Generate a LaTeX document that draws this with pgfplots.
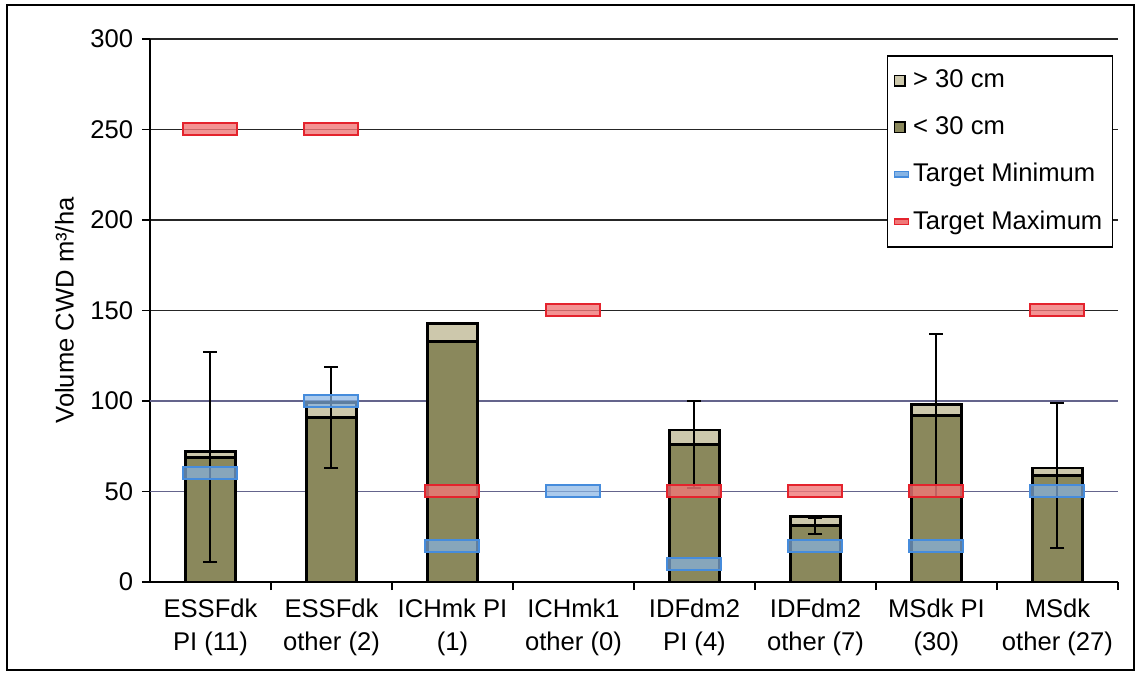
\documentclass[border=0pt]{standalone}
\usepackage{pgfplots}
\pgfplotsset{compat=1.18}
\usepackage{fontspec}
\setmainfont{Liberation Sans}
\definecolor{cOlive}{RGB}{138,136,92}
\definecolor{cTan}{RGB}{205,200,172}
\definecolor{cBlueB}{RGB}{70,140,220}
\definecolor{cBlueF}{RGB}{135,180,228}
\definecolor{cRedB}{RGB}{228,35,45}
\definecolor{cRedF}{RGB}{240,120,120}
\definecolor{cGridB}{RGB}{100,100,140}
\pgfdeclareplotmark{tbar}{\pgfpathrectangle{\pgfpoint{-13.5bp}{-3bp}}{\pgfpoint{27bp}{6bp}}\pgfusepathqfillstroke}
\pgfplotsset{
  myax/.style={
    at={(0,0)}, anchor=south west,
    scale only axis, width=484bp, height=271.5bp,
    xmin=-0.5, xmax=7.5, ymin=0, ymax=300,
  }
}
\begin{document}
\fontsize{12.85}{15}\selectfont
\begin{tikzpicture}
\useasboundingbox (-75bp,-46.5bp) rectangle (493.5bp,291bp);
\draw[black, line width=0.9bp] (-71.5bp,-44bp) rectangle (492bp,288.5bp);
\begin{axis}[myax,
  ybar stacked, bar width=25bp,
  /pgf/number format/assume math mode=true,
  axis x line*=bottom, axis y line*=left,
  axis line style={black, line width=0.8bp},
  xtick={0,...,7},
  xticklabels={{ESSFdk\\PI (11)},{ESSFdk\\other (2)},{ICHmk PI\\(1)},{ICHmk1\\other (0)},{IDFdm2\\PI (4)},{IDFdm2\\other (7)},{MSdk PI\\(30)},{MSdk\\other (27)}},
  xticklabel style={align=center, font=\fontsize{12.85}{16.5}\selectfont},
  xtick style={draw=none},
  extra x ticks={0.5,1.5,2.5,3.5,4.5,5.5,6.5,7.5},
  extra x tick labels={},
  extra x tick style={xtick style={draw=black, line width=0.8bp}, major tick length=4bp, tick align=outside},
  ytick={0,150,200,250,300},
  extra y ticks={50,100},
  extra y tick style={major grid style={cGridB, line width=0.9bp}},
  ytick style={black, line width=0.8bp},
  tick align=outside, major tick length=4bp,
  ymajorgrids, major grid style={black!85, line width=0.7bp},
  yticklabel style={font=\fontsize{12.85}{15}\selectfont},
  ylabel={Volume CWD m³/ha},
  ylabel style={font=\fontsize{12.85}{15}\selectfont, yshift=-8.5bp},
]
\addplot[fill=cOlive, draw=black, line width=1.4bp] coordinates {(0,69) (1,91) (2,133) (4,76) (5,31) (6,92) (7,59)};
\addplot[fill=cTan, draw=black, line width=1.4bp] coordinates {(0,3) (1,8) (2,10) (4,8) (5,5) (6,6) (7,4)};
\end{axis}
\begin{axis}[myax, hide axis,
  legend style={at={(rel axis cs:0.995,0.9705)}, anchor=north east, draw=black, line width=0.8bp, fill=white,
    font=\fontsize{12.85}{15}\selectfont, row sep=8.5bp, inner ysep=5bp, inner xsep=3bp, cells={anchor=west}},
]
\addplot[draw=none, mark=none, forget plot, error bars/.cd, y dir=both, y explicit,
  error bar style={draw=black, solid, line width=1bp},
  error mark options={draw=black, solid, rotate=90, mark size=3.5bp, line width=1bp}]
  coordinates {(0,69) +- (0,58) (1,91) +- (0,28) (4,76) +- (0,24) (5,31) +- (0,4.5) (6,92) +- (0,45) (7,59) +- (0,40)};
\addplot[only marks, mark=tbar, forget plot, mark options={draw=cBlueB, fill=cBlueF, fill opacity=0.7, line width=1bp}]
  coordinates {(0,60) (1,100) (2,20) (3,50) (4,10) (5,20) (6,20) (7,50)};
\addplot[only marks, mark=tbar, forget plot, mark options={draw=cRedB, fill=cRedF, fill opacity=0.8, line width=1bp}]
  coordinates {(0,250) (1,250) (2,50) (3,150) (4,50) (5,50) (6,50) (7,150)};
\addlegendimage{legend image code/.code={\draw[fill=cTan, draw=black, line width=0.8bp] (0bp,-2.6bp) rectangle (5.2bp,2.6bp);}}
\addlegendentry{> 30 cm}
\addlegendimage{legend image code/.code={\draw[fill=cOlive, draw=black, line width=0.8bp] (0bp,-2.6bp) rectangle (5.2bp,2.6bp);}}
\addlegendentry{< 30 cm}
\addlegendimage{legend image code/.code={\draw[fill=cBlueF, draw=cBlueB, line width=0.7bp] (0bp,-1.3bp) rectangle (7bp,1.3bp);}}
\addlegendentry{Target Minimum}
\addlegendimage{legend image code/.code={\draw[fill=cRedF, draw=cRedB, line width=0.7bp] (0bp,-1.3bp) rectangle (7bp,1.3bp);}}
\addlegendentry{Target Maximum}
\end{axis}
\end{tikzpicture}
\end{document}
